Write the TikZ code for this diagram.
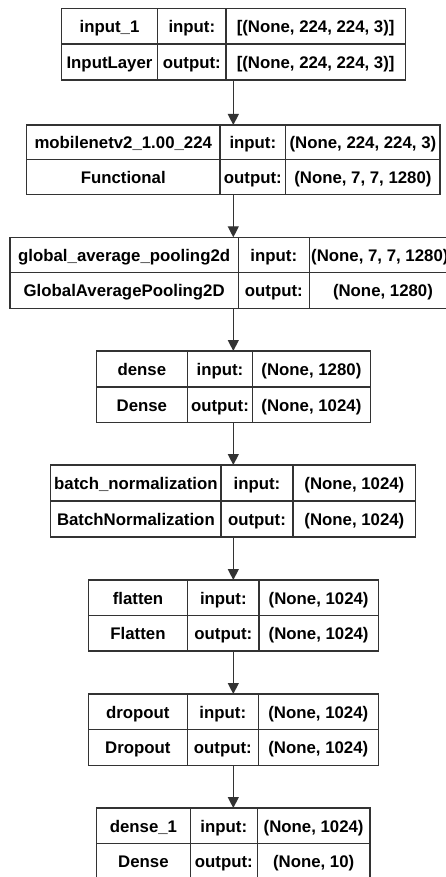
\documentclass[tikz,border=0pt]{standalone}
\usepackage{fontspec}
\setmainfont{Liberation Sans}
\usetikzlibrary{arrows.meta}
\definecolor{linecol}{HTML}{333333}
\tikzset{
  layerbox/.style={draw=linecol, line width=1.3pt, inner sep=0pt, outer sep=0pt},
  divider/.style={draw=linecol, line width=1.3pt},
  celltext/.style={font=\fontsize{16.8}{20}\selectfont\bfseries, text=black, inner sep=0pt,
    text height=12.6pt, text depth=0pt},
  flow/.style={draw=linecol, line width=1.3pt, -{Triangle[length=11pt,width=11pt]}},
}
% name, L, T, R, B, D1, D2
\newcommand\lgeom[7]{%
  \def\bN{#1}\def\bT{#3}\def\bB{#5}\def\bA{#6}\def\bC{#7}%
  \pgfmathsetmacro\bM{(#3+#5)/2}%
  \pgfmathsetmacro\bW{233.3-(#4-#2)/2}%
  \pgfmathsetmacro\bE{233.3+(#4-#2)/2}%
  \node[layerbox, minimum width={(#4-#2)*1pt}, minimum height={(#5-#3)*1pt}] (#1) at (233.3,\bM) {};
  \draw[divider] (#6,#3) -- (#6,#5) (#7,#3) -- (#7,#5) (#1.west) -- (#1.east);
}
% col1 top, col1 bottom, input shape, output shape
\newcommand\ltexts[4]{%
  \pgfmathsetmacro\ya{(\bT+\bM)/2}%
  \pgfmathsetmacro\yb{(\bM+\bB)/2}%
  \pgfmathsetmacro\xa{(\bW+\bA)/2}%
  \pgfmathsetmacro\xb{(\bA+\bC)/2}%
  \pgfmathsetmacro\xc{(\bC+\bE)/2}%
  \node[celltext] (\bN-name) at (\xa,\ya) {#1};
  \node[celltext] (\bN-type) at (\xa,\yb) {#2};
  \node[celltext] (\bN-in)   at (\xb,\ya) {input:};
  \node[celltext] (\bN-out)  at (\xb,\yb) {output:};
  \ifx\relax#3\relax\else\node[celltext] (\bN-inv) at (\xc,\ya) {#3};\fi
  \node[celltext] (\bN-outv) at (\xc,\yb) {#4};
}
\begin{document}
\begin{tikzpicture}[x=1pt,y=-1pt]
\useasboundingbox (0,0) rectangle (446,877);

\lgeom{b1}{61.7}{8.3}{405.7}{80}{157.7}{226}
\ltexts{input\_1}{InputLayer}{[(None, 224, 224, 3)]}{[(None, 224, 224, 3)]}

\lgeom{b2}{25.7}{125}{439.3}{194.3}{220}{285.7}
\ltexts{mobilenetv2\_1.00\_224}{Functional}{(None, 224, 224, 3)}{(None, 7, 7, 1280)}

\lgeom{b3}{10}{237.3}{456.6}{308.3}{238.3}{309.3}
\ltexts{global\_average\_pooling2d}{GlobalAveragePooling2D}{}{(None, 1280)}
\node[celltext, anchor=west] (b3-inv) at (311,\ya) {(None, 7, 7, 1280)};

\lgeom{b4}{96.3}{351}{370}{422.7}{187.3}{252.7}
\ltexts{dense}{Dense}{(None, 1280)}{(None, 1024)}

\lgeom{b5}{50.7}{465}{415.7}{537}{221}{293}
\ltexts{batch\_normalization}{BatchNormalization}{(None, 1024)}{(None, 1024)}

\lgeom{b6}{88.3}{580}{378.3}{651}{187.7}{259}
\ltexts{flatten}{Flatten}{(None, 1024)}{(None, 1024)}

\lgeom{b7}{87.7}{694}{377.7}{765.3}{187.3}{258.3}
\ltexts{dropout}{Dropout}{(None, 1024)}{(None, 1024)}

\lgeom{b8}{96.3}{808}{369.7}{879.4}{190.3}{257.3}
\ltexts{dense\_1}{Dense}{(None, 1024)}{(None, 10)}

\draw[flow] (b1.south) -- (b2.north);
\draw[flow] (b2.south) -- (b3.north);
\draw[flow] (b3.south) -- (b4.north);
\draw[flow] (b4.south) -- (b5.north);
\draw[flow] (b5.south) -- (b6.north);
\draw[flow] (b6.south) -- (b7.north);
\draw[flow] (b7.south) -- (b8.north);
\end{tikzpicture}
\end{document}
